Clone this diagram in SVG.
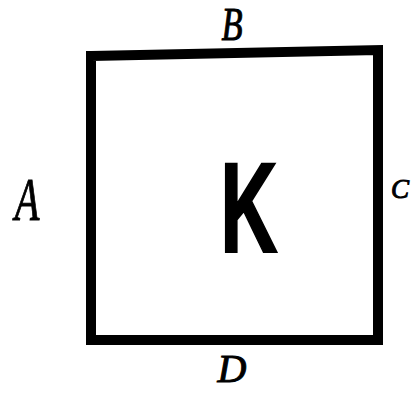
<svg xmlns="http://www.w3.org/2000/svg" width="411" height="393" viewBox="0 0 411 393">
  <style>
    .edge { fill: none; stroke: #000; stroke-width: 10; stroke-linejoin: miter; }
    .lbl { font-family: "Liberation Serif", "DejaVu Serif", serif; font-style: italic; fill: #000; stroke: #000; stroke-width: 1; }
    .big { font-family: "Liberation Sans", Arial, sans-serif; font-weight: bold; fill: #000; stroke: #000; stroke-width: 2; }
  </style>
  <rect width="411" height="393" fill="#fff"/>
  <g id="square">
    <path class="edge" d="M91,56 L378,50 L378,340 L91,340 Z"/>
  </g>
  <g id="label-K">
    <text class="big" font-size="128" text-anchor="middle" transform="translate(249,252) scale(0.62,1)">K</text>
  </g>
  <g id="label-A">
    <text class="lbl" font-size="62" text-anchor="middle" transform="translate(27,220) scale(0.65,1)">A</text>
  </g>
  <g id="label-B">
    <text class="lbl" font-size="46" text-anchor="middle" transform="translate(232,40) scale(0.75,1)">B</text>
  </g>
  <g id="label-C">
    <text class="lbl" font-size="27" transform="translate(391,198)">C</text>
  </g>
  <g id="label-D">
    <text class="lbl" font-size="40" text-anchor="middle" transform="translate(232,382)">D</text>
  </g>
</svg>
